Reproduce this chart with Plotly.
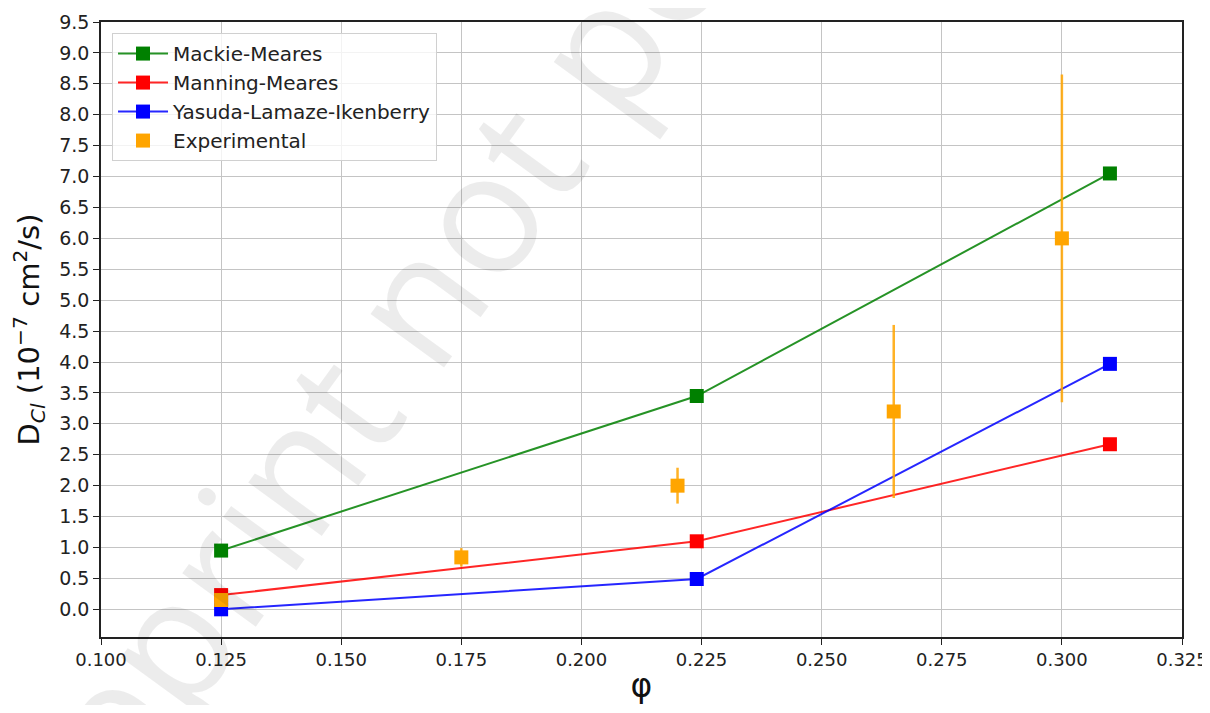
import plotly.graph_objects as go

# Data
phi_model = [0.125, 0.224, 0.31]
mackie_meares = [0.95, 3.45, 7.05]
manning_meares = [0.23, 1.10, 2.67]
yasuda_lamaze_ikenberry = [0.0, 0.49, 3.97]

phi_exp = [0.125, 0.175, 0.22, 0.265, 0.30]
d_exp = [0.15, 0.84, 2.0, 3.2, 6.0]
d_exp_err = [0.05, 0.15, 0.29, 1.40, 2.65]

y_ticks = [i * 0.5 for i in range(20)]
x_ticks = [0.100, 0.125, 0.150, 0.175, 0.200, 0.225, 0.250, 0.275, 0.300, 0.325]

watermark_words = ["Preprint", "not", "peer reviewed"]

FONT = "DejaVu Sans"

fig = go.Figure()

fig.add_trace(go.Scatter(
    x=phi_model, y=mackie_meares, mode="lines+markers", name="Mackie-Meares",
    line=dict(color="rgba(0,128,0,0.85)", width=2),
    marker=dict(symbol="square", size=14, color="green"),
))
fig.add_trace(go.Scatter(
    x=phi_model, y=manning_meares, mode="lines+markers", name="Manning-Meares",
    line=dict(color="rgba(255,0,0,0.85)", width=2),
    marker=dict(symbol="square", size=14, color="red"),
))
fig.add_trace(go.Scatter(
    x=phi_model, y=yasuda_lamaze_ikenberry, mode="lines+markers", name="Yasuda-Lamaze-Ikenberry",
    line=dict(color="rgba(0,0,255,0.85)", width=2),
    marker=dict(symbol="square", size=14, color="blue"),
))
fig.add_trace(go.Scatter(
    x=phi_exp, y=d_exp, mode="markers", name="Experimental",
    marker=dict(symbol="square", size=14, color="orange"),
    error_y=dict(type="data", array=d_exp_err, visible=True, thickness=2.5,
                 width=0, color="rgba(255,165,0,0.85)"),
))

# diagonal watermark, one annotation per word
wm_pos = [(0.0601, -0.0016), (0.333, 0.6585), (0.7364, 1.634)]
for word, (px, py) in zip(watermark_words, wm_pos):
    fig.add_annotation(
        text=word, xref="paper", yref="paper",
        x=px, y=py, xanchor="center", yanchor="middle",
        textangle=-54, showarrow=False,
        font=dict(family="Open Sans", size=170, color="rgba(0,0,0,0.075)"),
    )

# The page body has an 8px margin, so the figure is sized to fit the window.
fig.update_layout(
    width=1202, height=697,
    margin=dict(l=93, r=28, t=14, b=68, autoexpand=False),
    paper_bgcolor="white", plot_bgcolor="white",
    font=dict(family=FONT, size=20, color="#222"),
    showlegend=True,
    legend=dict(
        x=0.0102, y=0.982, xanchor="left", yanchor="top",
        bgcolor="rgba(255,255,255,0.8)", bordercolor="#d0d0d0", borderwidth=1,
        font=dict(family=FONT, size=20, color="#222"),
        tracegroupgap=0, itemwidth=50,
    ),
)

fig.update_xaxes(
    range=[0.1, 0.325], tickvals=x_ticks,
    ticktext=[f"{v:.3f}" for v in x_ticks],
    automargin=False,
    showgrid=True, gridcolor="#c4c4c4", gridwidth=1.3,
    showline=True, linecolor="#222", linewidth=1.5, mirror=True,
    ticks="outside", ticklen=6, tickwidth=1.3, tickcolor="#222",
    tickfont=dict(family=FONT, size=18, color="#222"),
    zeroline=False,
    title=dict(text="φ", font=dict(family=FONT, size=33, color="#111"), standoff=6),
)
fig.update_yaxes(
    range=[-0.448, 9.5], tickvals=y_ticks,
    ticktext=[f"{v:.1f}" for v in y_ticks],
    automargin=False,
    showgrid=True, gridcolor="#c4c4c4", gridwidth=1.3,
    showline=True, linecolor="#222", linewidth=1.5, mirror=True,
    ticks="outside", ticklen=6, tickwidth=1.3, tickcolor="#222",
    tickfont=dict(family=FONT, size=19, color="#222"),
    zeroline=False,
    title=dict(text="D<sub><i>Cl</i></sub> (10<sup>−7</sup> cm<sup>2</sup>/s)",
               font=dict(family=FONT, size=29, color="#111"), standoff=12),
)

fig.write_html("out.html")
